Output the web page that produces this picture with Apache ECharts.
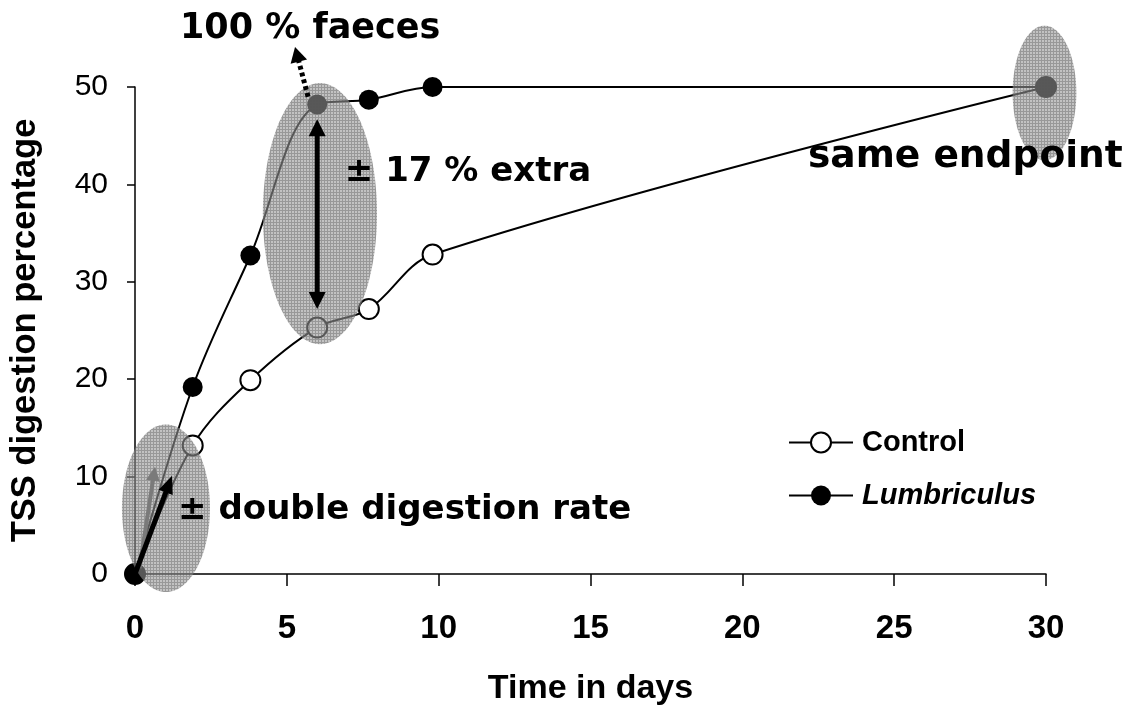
<!DOCTYPE html>
<html><head><meta charset="utf-8">
<script src="https://cdn.jsdelivr.net/npm/echarts@6/dist/echarts.min.js"></script>
<style>html,body{margin:0;padding:0;background:#fff}#c{width:1134px;height:711px}</style>
</head><body><div id="c"></div>
<script>
// ---- data ----
const days = [0, 1.9, 3.8, 6.0, 7.7, 9.8, 30];
const control = [0, 13.2, 19.9, 25.3, 27.2, 32.8, 50];
const lumbriculus = [0, 19.2, 32.7, 48.2, 48.7, 50.0, 50];
const seriesNames = ['Control', 'Lumbriculus'];
const xRange = [0, 30, 5];
const yRange = [0, 50, 10];
const xTitle = 'Time in days';
const yTitle = 'TSS digestion percentage';
// annotations, in data units
const ellipses = [
  {c: [1.02, 6.75], r: [1.45, 8.6]},
  {c: [6.09, 37.0], r: [1.88, 13.4]},
  {c: [29.95, 49.4], r: [1.05, 6.9]}
];
const notes = [
  {text: '100 % faeces', at: [1.48, 56.0], size: 35},
  {text: '± 17 % extra', at: [6.91, 41.3], size: 34},
  {text: 'same endpoint', at: [22.16, 42.8], size: 37.6},
  {text: '± double digestion rate', at: [1.42, 6.54], size: 34}
];
const arrows = [
  {from: [6, 46.7], to: [6, 27.2], both: true, color: '#000', w: 5, hl: 17, hw: 17},
  {from: [5.7, 49.0], to: [5.27, 54.1], color: '#000', w: 5, hl: 15, hw: 17, dash: [4, 3]},
  {from: [0.15, 0.6], to: [0.66, 11.0], color: '#7a7a7a', w: 4, hl: 14, hw: 14},
  {from: [0, 0], to: [1.22, 10.1], color: '#000', w: 5, hl: 18, hw: 15}
];

const chart = echarts.init(document.getElementById('c'));
const F = 'Liberation Sans';
chart.setOption({
  animation: false,
  backgroundColor: '#fff',
  grid: {left: 135, right: 88, top: 87, bottom: 135},
  legend: {
    orient: 'vertical', left: 788, top: 428, padding: 0,
    itemWidth: 64, itemHeight: 25, itemGap: 24,
    textStyle: {fontFamily: F, fontWeight: 'bold', fontSize: 29, color: '#000', padding: [0, 0, 0, 4]},
    data: [{name: seriesNames[0]}, {name: seriesNames[1], textStyle: {fontStyle: 'italic'}}]
  },
  xAxis: {
    type: 'value', min: xRange[0], max: xRange[1], interval: xRange[2],
    name: xTitle, nameLocation: 'middle', nameGap: 98,
    nameTextStyle: {fontFamily: F, fontWeight: 'bold', fontSize: 34, color: '#000'},
    axisLine: {lineStyle: {color: '#000', width: 1.5}},
    axisTick: {length: 12, lineStyle: {color: '#000', width: 1.5}},
    axisLabel: {margin: 38, fontFamily: F, fontWeight: 'bold', fontSize: 33, color: '#000'},
    splitLine: {show: false}
  },
  yAxis: {
    type: 'value', min: yRange[0], max: yRange[1], interval: yRange[2],
    name: yTitle, nameLocation: 'middle', nameGap: 92,
    nameTextStyle: {fontFamily: F, fontWeight: 'bold', fontSize: 34.5, color: '#000'},
    axisLine: {show: true, lineStyle: {color: '#000', width: 1.5}},
    axisTick: {show: true, length: 8, lineStyle: {color: '#000', width: 1.5}},
    axisLabel: {margin: 27, fontFamily: F, fontSize: 30, color: '#000'},
    splitLine: {show: false}
  },
  series: [
    {name: seriesNames[0], type: 'line', data: days.map((d, i) => [d, control[i]]), smooth: 0.35,
     symbol: 'circle', symbolSize: 20, z: 3,
     lineStyle: {color: '#000', width: 2}, itemStyle: {color: '#fff', borderColor: '#000', borderWidth: 2}},
    {name: seriesNames[1], type: 'line', data: days.map((d, i) => [d, lumbriculus[i]]), smooth: 0.35,
     symbol: 'circle', symbolSize: 20, z: 4,
     lineStyle: {color: '#000', width: 2}, itemStyle: {color: '#000', borderColor: '#000', borderWidth: 0}}
  ]
});

// dithered grey fill tile for the highlight ellipses
const tile = document.createElement('canvas');
tile.width = 3; tile.height = 3;
const tc = tile.getContext('2d');
tc.fillStyle = 'rgba(150,150,150,0.58)'; tc.fillRect(0, 0, 3, 3);
tc.fillStyle = 'rgba(90,90,90,0.4)'; tc.fillRect(0, 0, 3, 1); tc.fillRect(0, 1, 1, 2);

const px = p => chart.convertToPixel({gridIndex: 0}, p);
const els = [];
ellipses.forEach(e => {
  const c = px(e.c), ex = px([e.c[0] + e.r[0], e.c[1] + e.r[1]]);
  const rx = Math.abs(ex[0] - c[0]), ry = Math.abs(ex[1] - c[1]);
  const pts = [];
  for (let k = 0; k < 120; k++) { const t = k / 120 * Math.PI * 2; pts.push([c[0] + rx * Math.cos(t), c[1] + ry * Math.sin(t)]); }
  els.push({type: 'polygon', shape: {points: pts}, style: {fill: {image: tile, repeat: 'repeat'}}, z: 10});
});
function arrowEls(a, b, o) {
  const dx = b[0] - a[0], dy = b[1] - a[1], L = Math.hypot(dx, dy), ux = dx / L, uy = dy / L, nx = -uy, ny = ux;
  const head = (tip, d) => {
    const bx = tip[0] - d[0] * o.hl, by = tip[1] - d[1] * o.hl;
    return {type: 'polygon', shape: {points: [tip, [bx + nx * o.hw / 2, by + ny * o.hw / 2], [bx - nx * o.hw / 2, by - ny * o.hw / 2]]}, style: {fill: o.color}, z: 11};
  };
  let s = a, e = [b[0] - ux * o.hl * 0.9, b[1] - uy * o.hl * 0.9];
  const out = [];
  if (o.both) { s = [a[0] + ux * o.hl * 0.9, a[1] + uy * o.hl * 0.9]; out.push(head(a, [-ux, -uy])); }
  out.push({type: 'line', shape: {x1: s[0], y1: s[1], x2: e[0], y2: e[1]}, style: {stroke: o.color, lineWidth: o.w, lineDash: o.dash || null}, z: 11});
  out.push(head(b, [ux, uy]));
  return out;
}
arrows.forEach(a => els.push(...arrowEls(px(a.from), px(a.to), a)));
notes.forEach(n => {
  const p = px(n.at);
  els.push({type: 'text', x: p[0], y: p[1], z: 12,
    style: {text: n.text, fill: '#000', font: 'bold ' + n.size + 'px "DejaVu Sans"', textAlign: 'left', textVerticalAlign: 'middle'}});
});
chart.setOption({graphic: {elements: els}});
</script></body></html>
